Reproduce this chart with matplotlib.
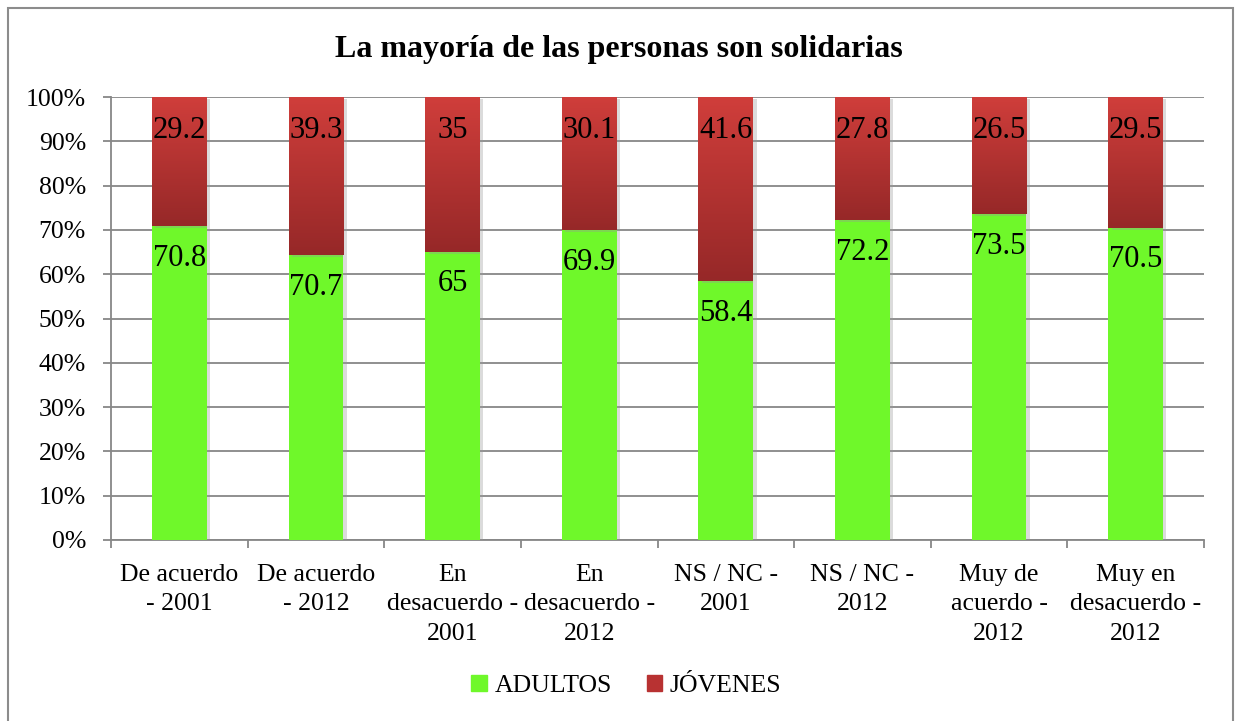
import matplotlib
matplotlib.use("Agg")
import matplotlib.pyplot as plt
import numpy as np
from matplotlib.colors import LinearSegmentedColormap
from matplotlib.patches import Patch, Rectangle
import matplotlib.patheffects as pe

plt.rcParams['font.family'] = ['Liberation Serif', 'DejaVu Serif']

categories = ["De acuerdo\n- 2001", "De acuerdo\n- 2012", "En\ndesacuerdo -\n2001",
              "En\ndesacuerdo -\n2012", "NS / NC -\n2001", "NS / NC -\n2012",
              "Muy de\nacuerdo -\n2012", "Muy en\ndesacuerdo -\n2012"]
adultos = [70.8, 70.7, 65, 69.9, 58.4, 72.2, 73.5, 70.5]
jovenes = [29.2, 39.3, 35, 30.1, 41.6, 27.8, 26.5, 29.5]
yticks = [0, 10, 20, 30, 40, 50, 60, 70, 80, 90, 100]
title = "La mayoría de las personas son solidarias"

green = '#6FF82A'
red_top = '#D03E3B'
red_bot = '#962828'
gray = '#878787'

a = np.array(adultos, dtype=float)
j = np.array(jovenes, dtype=float)
tot = a + j
a_pct = a / tot * 100
j_pct = j / tot * 100
x = np.arange(len(categories))
w = 0.4

fig = plt.figure(figsize=(12.38, 7.21), dpi=100)
ax = fig.add_axes([111/1238, 1 - 540/721, (1204-111)/1238, (540-97)/721])

shadow = [pe.SimplePatchShadow(offset=(2.5, -1.5), shadow_rgbFace='#999999', alpha=0.35), pe.Normal()]
b1 = ax.bar(x, a_pct, w, color=green, zorder=3, path_effects=shadow)
b2 = ax.bar(x, j_pct, w, bottom=a_pct, color='#B83232', zorder=3, path_effects=shadow)

cmap = LinearSegmentedColormap.from_list('r', [red_bot, red_top])
grad = np.linspace(0, 1, 256).reshape(-1, 1)
for rect in b2:
    x0, y0 = rect.get_x(), rect.get_y()
    im = ax.imshow(grad, extent=(x0, x0 + rect.get_width(), y0, y0 + rect.get_height()),
                   origin='lower', aspect='auto', cmap=cmap, zorder=4)
    im.set_clip_path(rect)

for i in range(len(x)):
    ax.annotate(f"{adultos[i]:g}", (x[i], a_pct[i]), xytext=(0, -23), textcoords='offset points',
                ha='center', va='center', fontsize=22, zorder=6)
    ax.annotate(f"{jovenes[i]:g}", (x[i], 100), xytext=(0, -24), textcoords='offset points',
                ha='center', va='center', fontsize=22, zorder=6)

ax.set_xlim(-0.5, len(x) - 0.5)
ax.set_ylim(0, 100)
ax.set_yticks(yticks)
ax.set_yticklabels([f"{v}%" for v in yticks], fontsize=18.5)
ax.yaxis.grid(True, color=gray, linewidth=1.3, zorder=0)
ax.set_axisbelow(True)
ax.set_xticks(x)
ax.set_xticklabels(categories, fontsize=18.5, linespacing=1.45)
ax.set_xticks(np.arange(-0.5, len(x)), minor=True)
ax.tick_params(axis='x', which='major', length=0, pad=17)
ax.tick_params(axis='x', which='minor', length=6, width=1.3, color=gray)
ax.tick_params(axis='y', length=6, width=1.3, color=gray, pad=12)
for s in ['top', 'right']:
    ax.spines[s].set_visible(False)
for s in ['left', 'bottom']:
    ax.spines[s].set_color(gray)
    ax.spines[s].set_linewidth(1.3)

fig.text(0.5, 1 - 50/721, title, ha='center', va='center', fontsize=23, fontweight='bold')

handles = [Patch(color=green, label='ADULTOS'), Patch(color='#B83232', label='JÓVENES')]
fig.legend(handles=handles, loc='center', bbox_to_anchor=(0.506, 1 - 686/721), ncol=2,
           frameon=False, fontsize=18.5, handlelength=0.6, handleheight=0.6,
           handletextpad=0.3, columnspacing=1.35)

fig.patches.append(Rectangle((8/1238, -0.02), (1233-8)/1238, 1.02 - 8/721,
                             transform=fig.transFigure, fill=False, edgecolor='#8c8c8c',
                             linewidth=1.5))

fig.savefig('out.png', dpi=100)
